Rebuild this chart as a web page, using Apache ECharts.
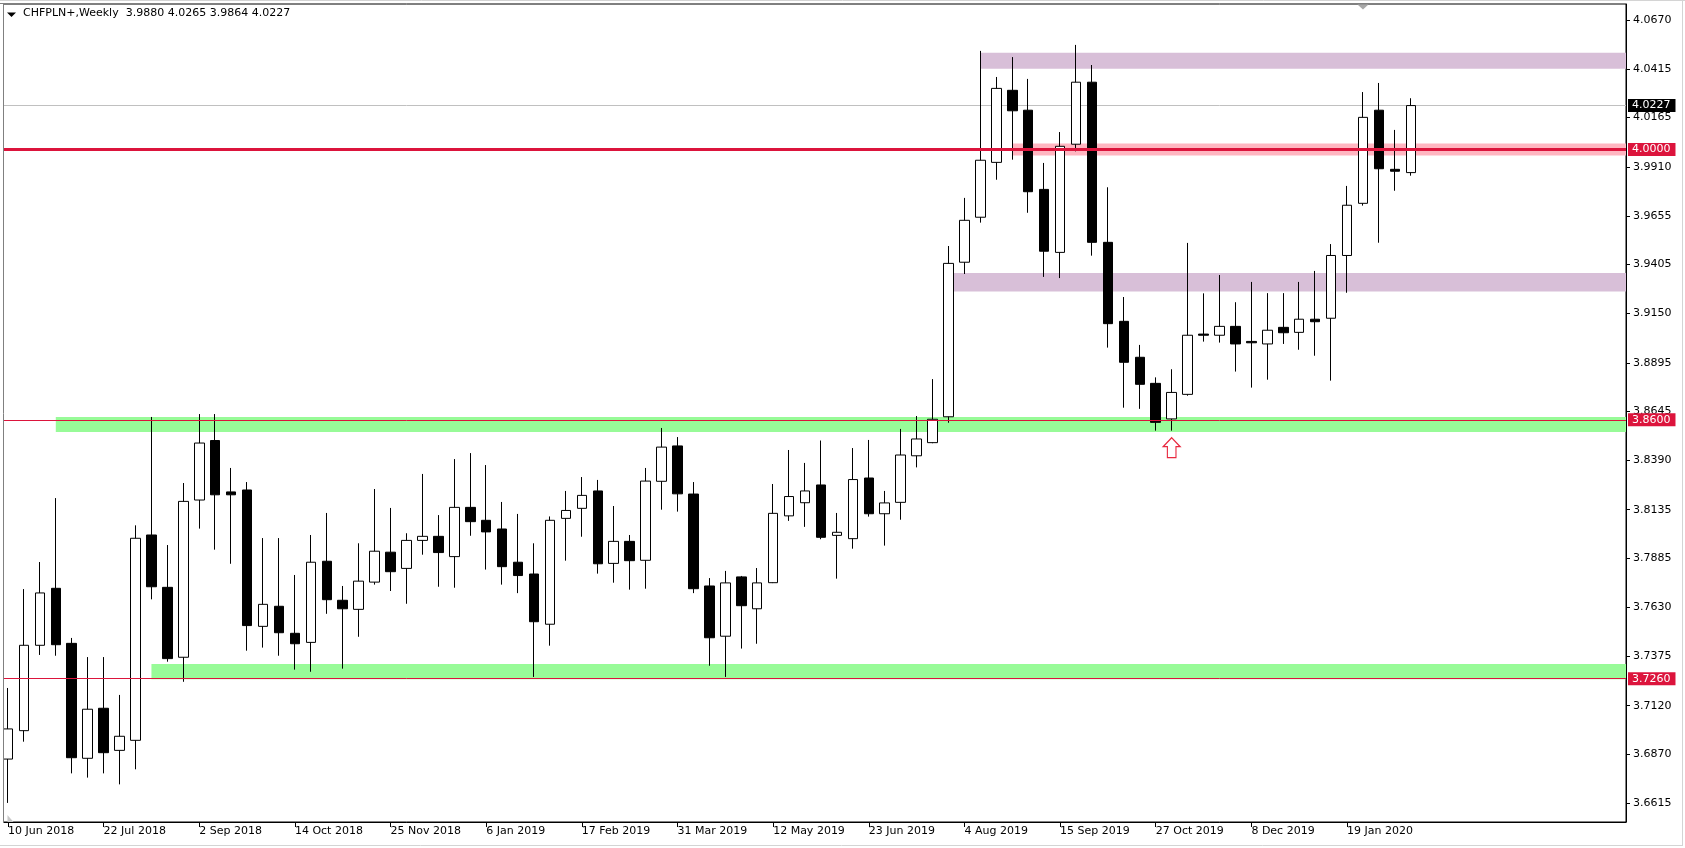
<!DOCTYPE html>
<html><head><meta charset="utf-8">
<script src="https://cdn.jsdelivr.net/npm/echarts@6/dist/echarts.min.js"></script>
<style>html,body{margin:0;padding:0;background:#fff}#c{width:1685px;height:848px}</style>
</head><body><div id="c"></div><script>
// ---------------- data ----------------
const symbolName = 'CHFPLN+';
const timeframe = 'Weekly';
const firstWeekUTC = Date.UTC(2018, 5, 10);   // 10 Jun 2018
const totalSlots = 102;                        // weeks shown incl. empty right margin

const opens  = [3.6844,3.6991,3.7433,3.7728,3.7443,3.6848,3.7107,3.6889,3.6941,3.8004,
                3.7733,3.7371,3.8185,3.8493,3.8227,3.8237,3.7531,3.7635,3.7495,3.7448,
                3.7868,3.7666,3.7619,3.7760,3.7915,3.7831,3.7976,3.7997,3.7892,3.8147,
                3.8080,3.8035,3.7863,3.7802,3.7542,3.8090,3.8142,3.8232,3.7857,3.7971,
                3.7873,3.8282,3.8465,3.8216,3.7740,3.7480,3.7787,3.7622,3.7757,3.8103,
                3.8171,3.8263,3.8002,3.7985,3.8299,3.8114,3.8173,3.8414,3.8482,3.8616,
                3.9416,3.9649,3.9933,4.0306,4.0203,3.9793,3.9467,4.0027,4.0348,3.9519,
                3.9110,3.8924,3.8789,3.8605,3.8732,3.9044,3.9038,3.9084,3.9006,3.8993,
                3.9079,3.9053,3.9121,3.9126,3.9451,3.9721,4.0203,3.9897,3.9880];
const highs  = [3.7212,3.7724,3.7864,3.8195,3.7471,3.7372,3.7372,3.7176,3.8054,3.8615,
                3.7952,3.8273,3.8630,3.8630,3.8351,3.8278,3.7988,3.7988,3.7797,3.8004,
                3.8118,3.7740,3.7961,3.8242,3.8144,3.8013,3.8320,3.8107,3.8397,3.8428,
                3.8366,3.8175,3.8113,3.7961,3.8100,3.8232,3.8304,3.8289,3.8154,3.8004,
                3.8351,3.8558,3.8511,3.8278,3.7781,3.7818,3.7792,3.7833,3.8268,3.8444,
                3.8377,3.8493,3.8118,3.8454,3.8496,3.8232,3.8553,3.8620,3.8811,3.9500,
                3.9749,4.0510,4.0375,4.0478,4.0365,3.9930,4.0090,4.0541,4.0437,3.9804,
                3.9236,3.8988,3.8820,3.8862,3.9516,3.9255,3.9350,3.9209,3.9314,3.9256,
                3.9256,3.9314,3.9371,3.9510,3.9811,4.0297,4.0344,4.0101,4.0265];
const lows   = [3.6617,3.6934,3.7383,3.7379,3.6770,3.6748,3.6770,3.6713,3.6791,3.7671,
                3.7348,3.7244,3.8037,3.7928,3.7855,3.7405,3.7421,3.7379,3.7307,3.7296,
                3.7596,3.7312,3.7477,3.7747,3.7714,3.7648,3.7902,3.7736,3.7731,3.8000,
                3.7825,3.7747,3.7703,3.7269,3.7431,3.7871,3.7995,3.7804,3.7757,3.7721,
                3.7726,3.8135,3.8125,3.7703,3.7327,3.7269,3.7416,3.7441,3.7755,3.8077,
                3.8046,3.7982,3.7778,3.7933,3.8099,3.7949,3.8083,3.8354,3.8479,3.8585,
                3.9355,3.9621,3.9843,3.9947,3.9672,3.9340,3.9334,3.9990,3.9450,3.8974,
                3.8663,3.8657,3.8544,3.8544,3.8725,3.9005,3.9000,3.8850,3.8767,3.8808,
                3.8993,3.8963,3.8932,3.8803,3.9258,3.9709,3.9517,3.9786,3.9864];
const closes = [3.7000,3.7433,3.7704,3.7436,3.6851,3.7102,3.6877,3.6962,3.7987,3.7736,
                3.7364,3.8178,3.8480,3.8212,3.8212,3.7535,3.7645,3.7498,3.7441,3.7863,
                3.7669,3.7622,3.7765,3.7920,3.7814,3.7976,3.7997,3.7913,3.8147,3.8073,
                3.8020,3.7840,3.7794,3.7555,3.8080,3.8131,3.8209,3.7855,3.7971,3.7871,
                3.8283,3.8459,3.8217,3.7726,3.7472,3.7756,3.7638,3.7756,3.8116,3.8203,
                3.8232,3.7992,3.8018,3.8291,3.8114,3.8170,3.8418,3.8501,3.8603,3.9410,
                3.9633,3.9944,4.0316,4.0200,3.9781,3.9473,4.0016,4.0348,3.9519,3.9098,
                3.8898,3.8784,3.8587,3.8742,3.9038,3.9038,3.9084,3.8993,3.8999,3.9064,
                3.9051,3.9121,3.9108,3.9451,3.9711,4.0166,3.9900,3.9887,4.0227];

const priceTicks = [3.6615,3.6870,3.7120,3.7375,3.7630,3.7885,3.8135,3.8390,3.8645,
                    3.8895,3.9150,3.9405,3.9655,3.9910,4.0165,4.0415,4.0670];
const priceMin = 3.65182, priceMax = 4.07528;
const labelEvery = 6;

// zones (rectangles): start week index, top price, bottom price, kind
const zoneStart  = [61, 59, 63, 3, 9];
const zoneTop    = [4.0501, 3.9360, 4.0031, 3.8615, 3.7336];
const zoneBottom = [4.0418, 3.9264, 3.9969, 3.8537, 3.7257];
const zoneKind   = ['resistance','resistance','pivot','support','support'];

// horizontal levels
const keyLevel = 4.0000;
const supportLevels = [3.8600, 3.7260];
const signalWeek = 73;   // up-arrow under this candle
const shiftMarkWeek = 85;

// ---------------- build ----------------
const MONTHS = ['Jan','Feb','Mar','Apr','May','Jun','Jul','Aug','Sep','Oct','Nov','Dec'];
const weeks = [];
for (let i = 0; i < totalSlots; i++) {
  const d = new Date(firstWeekUTC + i * 7 * 86400000);
  weeks.push(d.getUTCDate() + ' ' + MONTHS[d.getUTCMonth()] + ' ' + d.getUTCFullYear());
}
const candles = opens.map((o, i) => [o, closes[i], lows[i], highs[i]]);
const n = opens.length;
const lastO = opens[n-1], lastH = highs[n-1], lastL = lows[n-1], lastC = closes[n-1];
const FONT = 'DejaVu Sans';
const zoneColors = { resistance: '#D8BFD8', pivot: '#FFB6C1', support: '#98FB98' };
const CRIMSON = '#DC143C';

const boxLabel = (bg) => ({
  show: true, position: 'end', distance: 2,
  formatter: p => Number(p.value).toFixed(4),
  color: '#fff', backgroundColor: bg, fontFamily: FONT, fontSize: 11,
  lineHeight: 11, padding: [1, 5, 1, 4]
});

const chart = echarts.init(document.getElementById('c'), null, { renderer: 'canvas' });
chart.setOption({
  animation: false,
  backgroundColor: '#fff',
  title: {
    text: symbolName + ',' + timeframe + '  ' + [lastO, lastH, lastL, lastC].map(v => v.toFixed(4)).join(' '),
    left: 23, top: 8, padding: 0,
    textStyle: { fontFamily: FONT, fontSize: 11, fontWeight: 'normal', color: '#000' }
  },
  grid: { left: -2.5, right: 59, top: 4, bottom: 26, show: true, borderColor: '#000', borderWidth: 1, backgroundColor: '#fff' },
  xAxis: {
    type: 'category', data: weeks, boundaryGap: true,
    axisLine: { show: true, lineStyle: { color: '#000', width: 1 } },
    axisTick: { show: true, alignWithLabel: true, length: 5, lineStyle: { color: '#000' },
      interval: (idx) => idx % labelEvery === 0 && idx < n },
    axisLabel: { interval: (idx) => idx % labelEvery === 0 && idx < n, align: 'left', margin: 4,
      fontFamily: FONT, fontSize: 11, color: '#000' },
    splitLine: { show: false }
  },
  yAxis: {
    type: 'value', position: 'right', min: priceMin, max: priceMax, scale: true,
    axisLine: { show: true, lineStyle: { color: '#000', width: 1 } },
    axisTick: { show: true, length: 4, customValues: priceTicks, lineStyle: { color: '#000' } },
    axisLabel: { customValues: priceTicks, margin: 7, formatter: v => v.toFixed(4),
      fontFamily: FONT, fontSize: 11, color: '#000' },
    splitLine: { show: false }
  },
  series: [
    {
      type: 'custom', z: 1, clip: true, silent: true,
      data: zoneStart.map((s, i) => [s, zoneTop[i], zoneBottom[i]]),
      encode: { x: 0, y: [1, 2] },
      renderItem: (params, api) => {
        const cs = params.coordSys;
        const p1 = api.coord([api.value(0), api.value(1)]);
        const p2 = api.coord([api.value(0), api.value(2)]);
        return { type: 'rect',
          shape: { x: p1[0], y: p1[1], width: cs.x + cs.width - p1[0], height: p2[1] - p1[1] },
          style: { fill: zoneColors[zoneKind[params.dataIndex]] } };
      },
      markLine: {
        z: 1, silent: true, animation: false, symbol: ['none', 'none'], precision: 4,
        data: [
          { yAxis: lastC, lineStyle: { color: '#C0C0C0', width: 1, type: 'solid' }, label: boxLabel('#000') }
        ]
      }
    },
    {
      type: 'candlestick', z: 2, data: candles, barWidth: 10,
      itemStyle: { color: '#fff', color0: '#000', borderColor: '#000', borderColor0: '#000', borderWidth: 1 },
      markPoint: {
        silent: true, animation: false,
        label: { show: false },
        data: [{
          coord: [signalWeek, lows[signalWeek]],
          symbol: 'path://M8.5 0 L17 9 L12.8 9 L12.8 20 L4.2 20 L4.2 9 L0 9 Z',
          symbolSize: [17, 20], symbolOffset: [0, 17],
          itemStyle: { color: '#fff', borderColor: '#E8283F', borderWidth: 1.2 }
        }]
      }
    },
    {
      type: 'line', z: 5, data: [], silent: true,
      markLine: {
        silent: true, animation: false, symbol: ['none', 'none'], precision: 4,
        data: [
          { yAxis: keyLevel, lineStyle: { color: CRIMSON, width: 3, type: 'solid' }, label: boxLabel(CRIMSON) },
          { yAxis: supportLevels[0], lineStyle: { color: CRIMSON, width: 1, type: 'solid' }, label: boxLabel(CRIMSON) },
          { yAxis: supportLevels[1], lineStyle: { color: CRIMSON, width: 1, type: 'solid' }, label: boxLabel(CRIMSON) }
        ]
      },
      markPoint: {
        silent: true, animation: false, label: { show: false },
        data: [
          { coord: [shiftMarkWeek, priceMax], symbol: 'path://M0 0 L10 0 L5 5 Z', symbolSize: [11, 5],
            symbolOffset: [0, 3], itemStyle: { color: '#A8A8A8' } },
          { coord: [0, priceMin], symbol: 'path://M0 0 L0 7 L6 7 Z', symbolSize: [6, 7],
            symbolOffset: [2.5, -3.5], itemStyle: { color: '#C8C8C8' } }
        ]
      }
    }
  ],
  graphic: [
    { type: 'rect', z: 100, silent: true, shape: { x: 0, y: 4, width: 3, height: 819 }, style: { fill: '#fff' } },
    { type: 'line', z: 101, silent: true, shape: { x1: 3.5, y1: 4, x2: 3.5, y2: 823 }, style: { stroke: '#808080', lineWidth: 1 } },
    { type: 'line', z: 101, silent: true, shape: { x1: 0, y1: 0.5, x2: 1685, y2: 0.5 }, style: { stroke: '#D4D4D4', lineWidth: 1 } },
    { type: 'line', z: 101, silent: true, shape: { x1: 1682.5, y1: 0, x2: 1682.5, y2: 846 }, style: { stroke: '#D4D4D4', lineWidth: 1 } },
    { type: 'line', z: 101, silent: true, shape: { x1: 0, y1: 845.5, x2: 1683, y2: 845.5 }, style: { stroke: '#D4D4D4', lineWidth: 1 } },
    { type: 'polygon', z: 101, silent: true, shape: { points: [[7, 12.5], [16, 12.5], [11.5, 17]] }, style: { fill: '#000' } }
  ]
});
</script></body></html>
